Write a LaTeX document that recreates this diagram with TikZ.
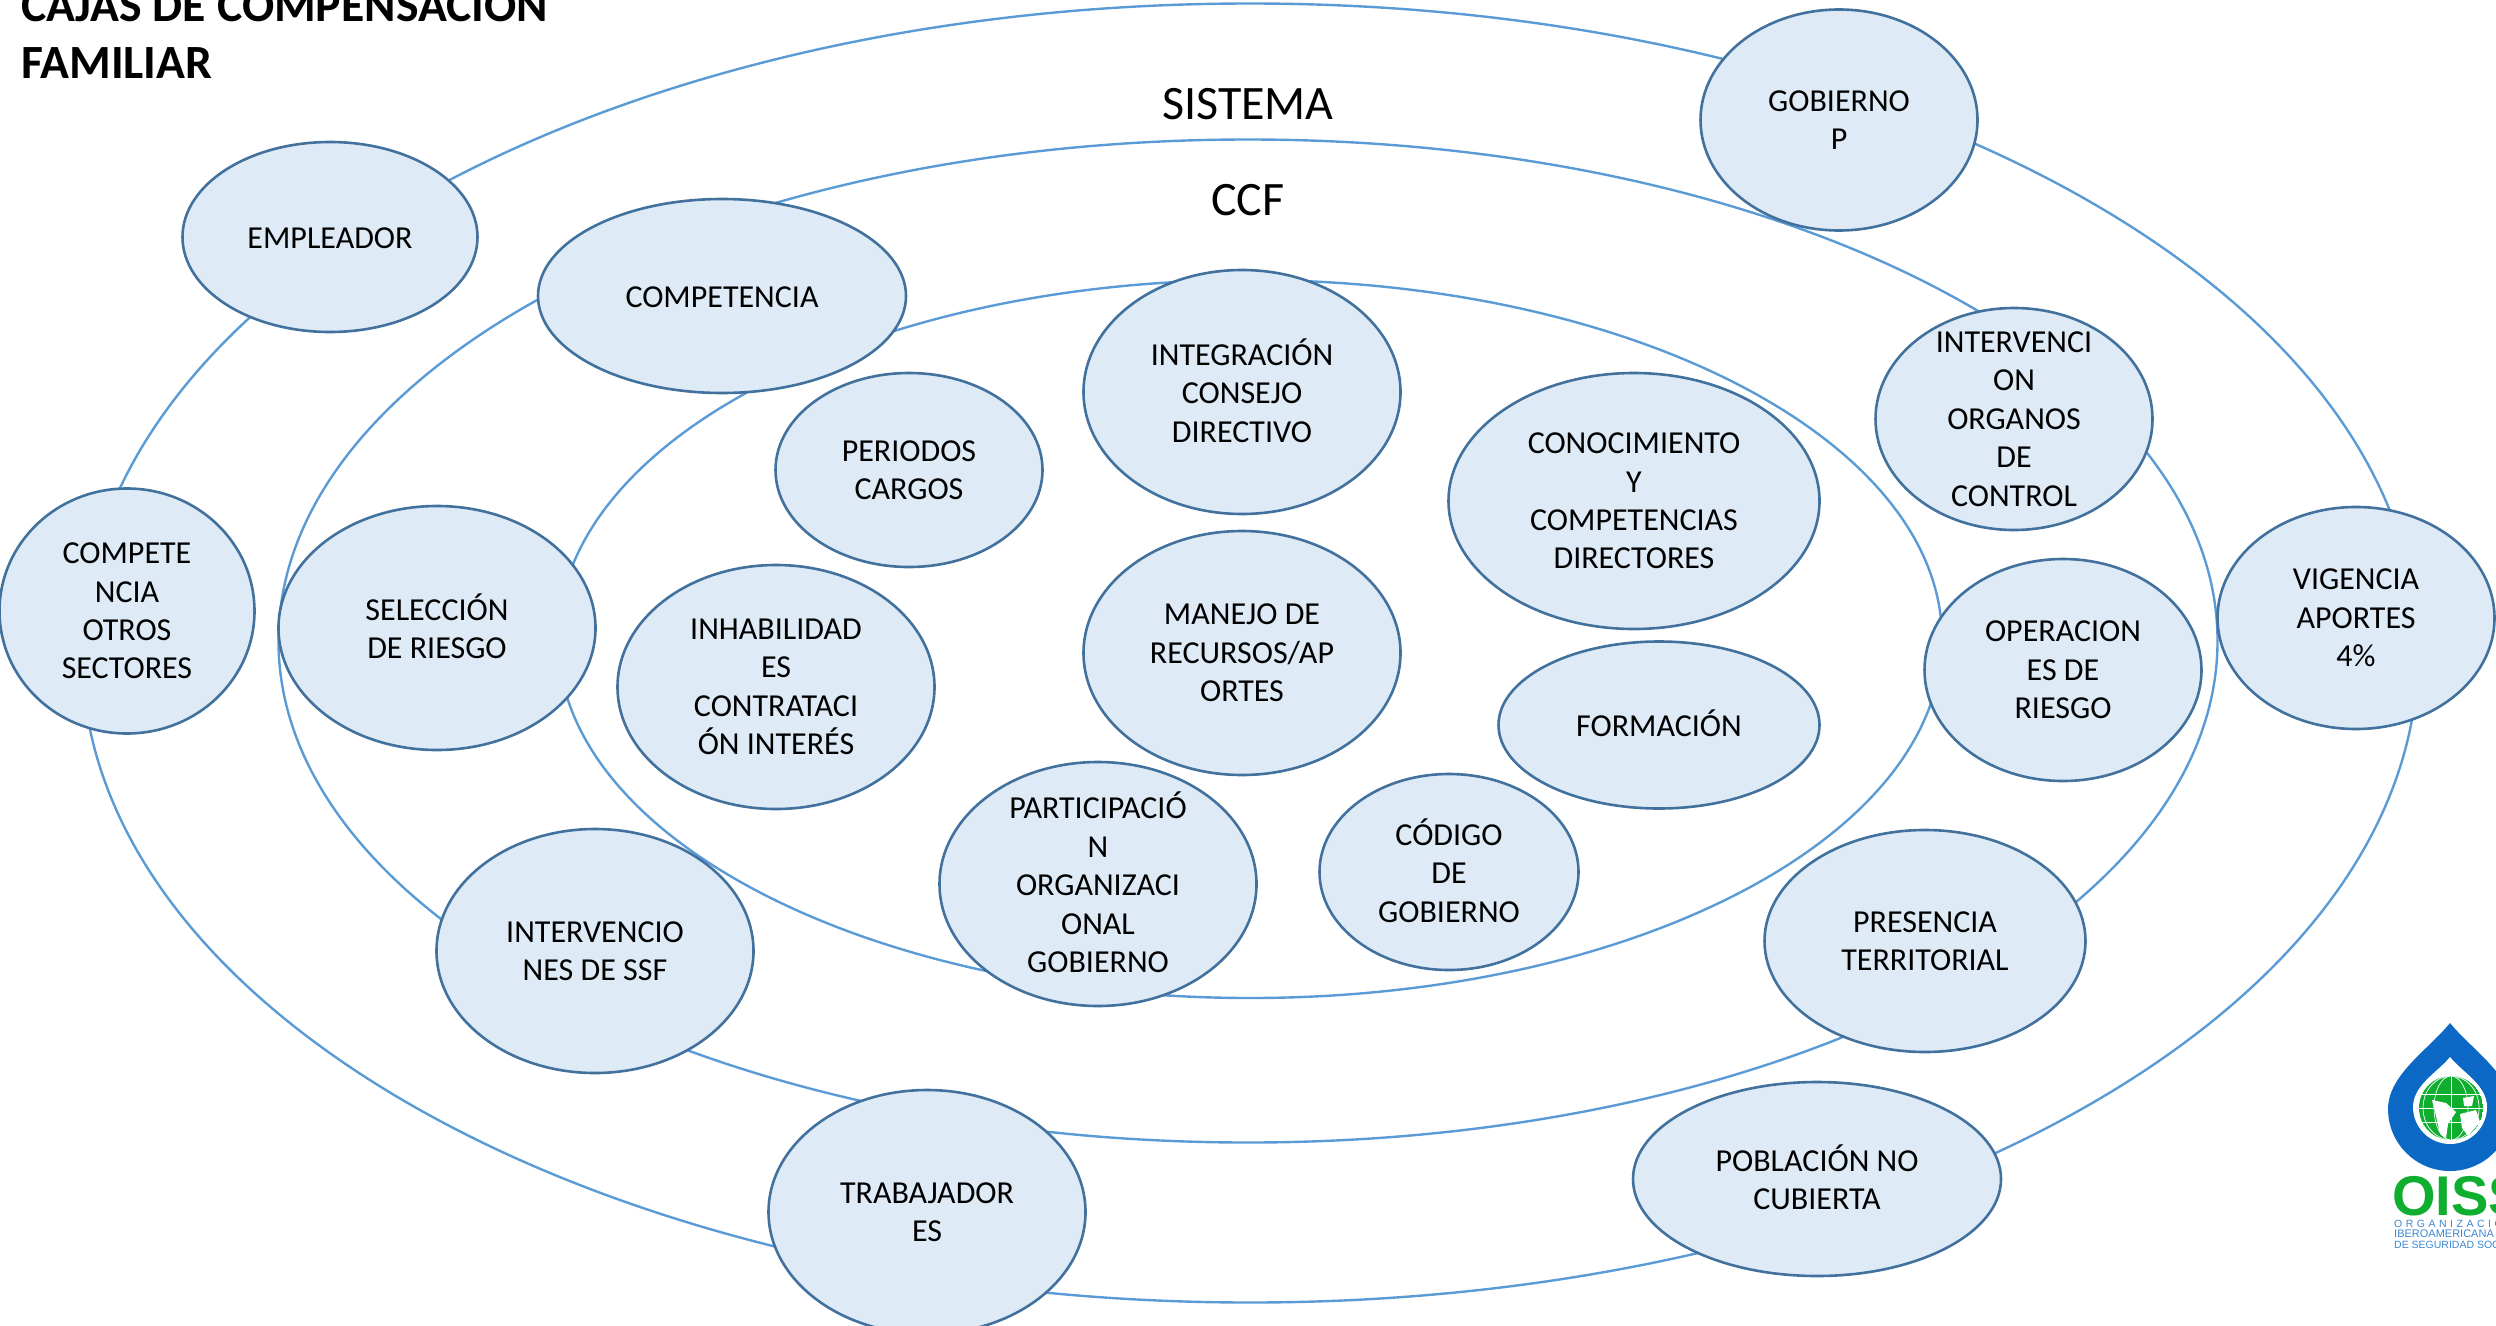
\documentclass[tikz,border=0pt]{standalone}
\usepackage{fontspec}
\setmainfont{Carlito}
\newfontfamily\logofont{Liberation Sans}
\usetikzlibrary{shapes.geometric}
\definecolor{ringblue}{HTML}{5B9BD5}
\definecolor{actorline}{HTML}{41719C}
\definecolor{actorfill}{HTML}{DEEAF6}
\definecolor{logoblue}{HTML}{0B68C4}
\definecolor{logogreen}{HTML}{0FAE2E}
\tikzset{
    ring/.style 2 args={ellipse, draw=ringblue, line width=2.4pt, inner sep=-100pt, outer sep=0pt, minimum width=#1, minimum height=#2},
    actor/.style 2 args={ellipse, draw=actorline, fill=actorfill, line width=2.6pt, inner sep=-100pt, outer sep=0pt,
        minimum width=#1, minimum height=#2, align=center, font=\fontsize{32}{38.4}\selectfont\everypar{\rule{0pt}{23.2pt}}},
    oneline/.style={execute at begin node={\rule{0pt}{30.2pt}}, execute at end node={\rule[-8.2pt]{0pt}{8.2pt}}},
    accent/.style={execute at end node={\rule[-3.2pt]{0pt}{3.2pt}}},
    heading/.style={inner sep=0pt, font=\fontsize{48}{56}\selectfont},
    logotext/.style={anchor=base west, inner sep=0pt, text=logoblue, opacity=0.8, font=\logofont\fontsize{10.5}{10.5}\selectfont},
}
\begin{document}
\begin{tikzpicture}[x=1pt, y=-1pt]
    \useasboundingbox (0,0) rectangle (2496,1325);
    \clip (0,0) rectangle (2496,1325);
    % rings
    \node[ring={2336pt}{1299pt}] (sistema) at (1250,653) {};
    \node[ring={1939pt}{1003pt}] (ccfring) at (1248,641) {};
    \node[ring={1384pt}{718pt}] (interno) at (1250,639) {};
    % titles
    \node[heading, anchor=north west, align=left, font=\fontsize{47.7}{57.6}\selectfont\bfseries] (titulo) at (21,-19) {CAJAS DE COMPENSACIÓN\\FAMILIAR};
    \node[heading] (lblsistema) at (1248,104) {SISTEMA};
    \node[heading] (lblccf) at (1248,200) {CCF};
    % outer ring
    \node[oneline, actor={295pt}{190pt}] (empleador) at (330,237) {EMPLEADOR};
    \node[actor={277pt}{221pt}] (gobierno) at (1839,120) {GOBIERNO\\P};
    \node[actor={277pt}{222pt}] (vigencia) at (2356,618) {VIGENCIA\\APORTES\\4\%};
    \node[actor={255pt}{245pt}] (otros) at (127,611) {COMPETE\\NCIA\\OTROS\\SECTORES};
    \node[actor={317pt}{244pt}] (trabajador) at (927,1212) {TRABAJADOR\\ES};
    \node[accent, actor={368pt}{194pt}] (poblacion) at (1817,1179) {POBLACIÓN NO\\CUBIERTA};
    % middle ring
    \node[oneline, actor={368pt}{194pt}] (competencia) at (722,296) {COMPETENCIA};
    \node[actor={277pt}{222pt}] (organos) at (2014,419) {INTERVENCI\\ON\\ORGANOS\\DE\\CONTROL};
    \node[accent, actor={317pt}{244pt}] (seleccion) at (437,628) {SELECCIÓN\\DE RIESGO};
    \node[actor={277pt}{222pt}] (operaciones) at (2063,670) {OPERACION\\ES DE\\RIESGO};
    \node[actor={321pt}{222pt}] (presencia) at (1925,941) {PRESENCIA\\TERRITORIAL};
    \node[actor={317pt}{244pt}] (ssf) at (595,951) {INTERVENCIO\\NES DE SSF};
    % inner ring
    \node[accent, actor={317pt}{244pt}] (integracion) at (1242,392) {INTEGRACIÓN\\CONSEJO\\DIRECTIVO};
    \node[actor={267pt}{194pt}] (periodos) at (909,470) {PERIODOS\\CARGOS};
    \node[actor={371pt}{256pt}] (conocimiento) at (1634,501) {CONOCIMIENTO\\Y\\COMPETENCIAS\\DIRECTORES};
    \node[actor={317pt}{244pt}] (inhabilidad) at (776,687) {INHABILIDAD\\ES\\CONTRATACI\\ÓN INTERÉS};
    \node[actor={317pt}{244pt}] (manejo) at (1242,653) {MANEJO DE\\RECURSOS/AP\\ORTES};
    \node[oneline, actor={321pt}{167pt}] (formacion) at (1659,725) {FORMACIÓN};
    \node[accent, actor={317pt}{244pt}] (participacion) at (1098,884) {PARTICIPACIÓ\\N\\ORGANIZACI\\ONAL\\GOBIERNO};
    \node[accent, actor={259pt}{196pt}] (codigo) at (1449,872) {CÓDIGO\\DE\\GOBIERNO};
    % logo
    \fill[logoblue] (2450,1023) .. controls (2428,1050) and (2388,1075) .. (2388,1109) arc[start angle=180, end angle=360, radius=62pt] .. controls (2512,1075) and (2472,1050) .. (2450,1023) -- cycle;
    \fill[white] (2450,1057) .. controls (2438,1072) and (2413,1085) .. (2413,1107) arc[start angle=180, end angle=360, radius=37pt] .. controls (2487,1085) and (2462,1072) .. (2450,1057) -- cycle;
    \begin{scope}
        \clip (2451,1108) circle[radius=32pt];
        \fill[logogreen] (2451,1108) circle[radius=32pt];
        \fill[white] (2432,1100) -- (2446,1103) -- (2456,1112) -- (2448,1124) -- (2446,1138) -- (2440,1134) -- (2436,1116) -- cycle;
        \fill[white] (2460,1114) -- (2476,1110) -- (2480,1122) -- (2468,1136) -- (2462,1128) -- cycle;
        \fill[white] (2463,1098) -- (2474,1096) -- (2472,1106) -- (2464,1106) -- cycle;
        \draw[white, line width=0.7pt] (2451,1076) -- (2451,1140) (2419,1108) -- (2483,1108) (2420,1094) -- (2482,1094) (2420,1122) -- (2482,1122);
        \draw[white, line width=0.7pt] (2451,1108) ellipse[x radius=17pt, y radius=32pt] (2451,1108) ellipse[x radius=28pt, y radius=32pt];
    \end{scope}
    \node[anchor=base west, inner sep=0pt, text=logogreen, font=\logofont\fontsize{56}{56}\selectfont\bfseries] (oiss) at (2392,1215) {OISS};
    \node[logotext] (org) at (2394,1227) {O\,\,R\,\,G\,\,A\,\,N\,\,I\,\,Z\,\,A\,\,C\,\,I\,\,Ó\,\,N};
    \node[logotext, font=\logofont\fontsize{11}{11}\selectfont] (ibero) at (2394,1237.5) {IBEROAMERICANA};
    \node[logotext] (seguridad) at (2394,1248) {DE SEGURIDAD SOCIAL};
\end{tikzpicture}
\end{document}
